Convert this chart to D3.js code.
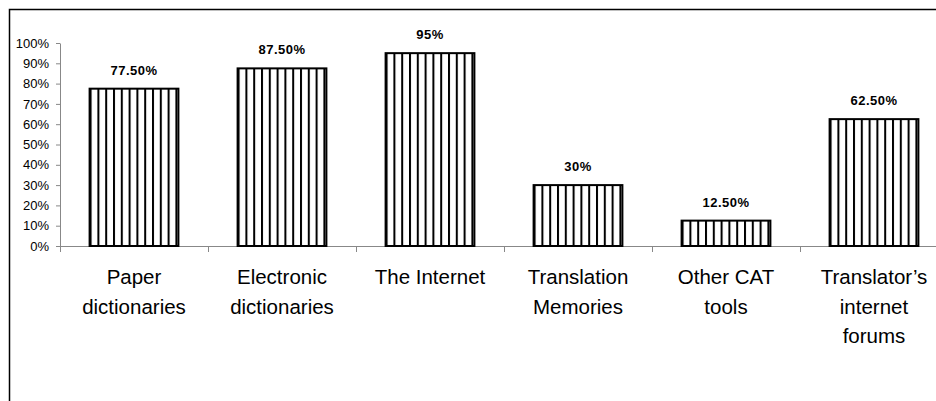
<!DOCTYPE html>
<html>
<head>
<meta charset="utf-8">
<script src="https://cdn.jsdelivr.net/npm/d3@7"></script>
<style>
  html, body { margin: 0; padding: 0; background: #fff; }
  svg { display: block; font-family: Arial, "Liberation Sans", sans-serif; }
</style>
</head>
<body>
<svg id="chart" width="936" height="401"></svg>
<script>
const categories = [
  ["Paper", "dictionaries"],
  ["Electronic", "dictionaries"],
  ["The Internet"],
  ["Translation", "Memories"],
  ["Other CAT", "tools"],
  ["Translator\u2019s", "internet", "forums"]
];
const values = [77.5, 87.5, 95, 30, 12.5, 62.5];
const valueLabels = ["77.50%", "87.50%", "95%", "30%", "12.50%", "62.50%"];
const yTicks = [0, 10, 20, 30, 40, 50, 60, 70, 80, 90, 100];

const svg = d3.select("#chart");

// outer frame (runs off the right and bottom edge)
svg.append("rect")
  .attr("x", 9.5).attr("y", 9.5)
  .attr("width", 1000).attr("height", 1000)
  .attr("fill", "none").attr("stroke", "#000").attr("stroke-width", 1.5);

const plotLeft = 60, plotRight = 948, plotTop = 43, plotBottom = 246;
const idx = d3.range(values.length);

const x = d3.scaleBand().domain(idx).range([plotLeft, plotRight]).paddingInner(0.4).paddingOuter(0.2);
const y = d3.scaleLinear().domain([0, 100]).range([plotBottom, plotTop]);

// stripe patterns, one per bar so stripes start at the bar edge
const defs = svg.append("defs");
idx.forEach(i => {
  const p = defs.append("pattern")
    .attr("id", "stripes" + i)
    .attr("patternUnits", "userSpaceOnUse")
    .attr("x", x(i)).attr("y", 0)
    .attr("width", 7.8).attr("height", 10);
  p.append("rect").attr("width", 7.8).attr("height", 10).attr("fill", "#fff");
  p.append("rect").attr("x", 0).attr("width", 2).attr("height", 10).attr("fill", "#000");
});

// y axis
const yAxis = svg.append("g")
  .attr("transform", `translate(${plotLeft},0)`)
  .call(d3.axisLeft(y).tickValues(yTicks).tickFormat(d => d + "%").tickSize(4).tickSizeOuter(0));
yAxis.select(".domain").attr("stroke", "#888");
yAxis.selectAll(".tick line").attr("stroke", "#888");
yAxis.selectAll(".tick text")
  .attr("x", -11)
  .attr("fill", "#000")
  .style("font-size", "13px")
  .style("font-family", "Arial, 'Liberation Sans', sans-serif");

// x axis line with category separators
svg.append("line")
  .attr("x1", plotLeft).attr("x2", plotRight)
  .attr("y1", plotBottom + 0.5).attr("y2", plotBottom + 0.5)
  .attr("stroke", "#888");
const sepX = d => plotLeft + d * (plotRight - plotLeft) / values.length + 0.5;
svg.selectAll(".sep")
  .data(d3.range(values.length + 1))
  .enter().append("line")
  .attr("x1", sepX).attr("x2", sepX)
  .attr("y1", plotBottom).attr("y2", plotBottom + 6)
  .attr("stroke", "#888");

// bars
svg.selectAll(".bar")
  .data(idx).enter().append("rect")
  .attr("x", i => x(i))
  .attr("y", i => y(values[i]))
  .attr("width", x.bandwidth())
  .attr("height", i => plotBottom - y(values[i]))
  .attr("fill", i => `url(#stripes${i})`)
  .attr("stroke", "#000")
  .attr("stroke-width", 2);

// value labels
svg.selectAll(".vlabel")
  .data(idx).enter().append("text")
  .attr("x", i => x(i) + x.bandwidth() / 2)
  .attr("y", i => y(values[i]) - 14)
  .attr("text-anchor", "middle")
  .style("font-size", "13px")
  .style("font-weight", "bold")
  .style("letter-spacing", "0.5px")
  .text(i => valueLabels[i]);

// category labels
const cat = svg.selectAll(".cat")
  .data(idx).enter().append("text")
  .attr("text-anchor", "middle")
  .style("font-size", "20.5px");
cat.each(function(i) {
  const t = d3.select(this);
  categories[i].forEach((line, k) => {
    t.append("tspan")
      .attr("x", x(i) + x.bandwidth() / 2)
      .attr("y", 284 + k * 29.5)
      .text(line);
  });
});
</script>
</body>
</html>
